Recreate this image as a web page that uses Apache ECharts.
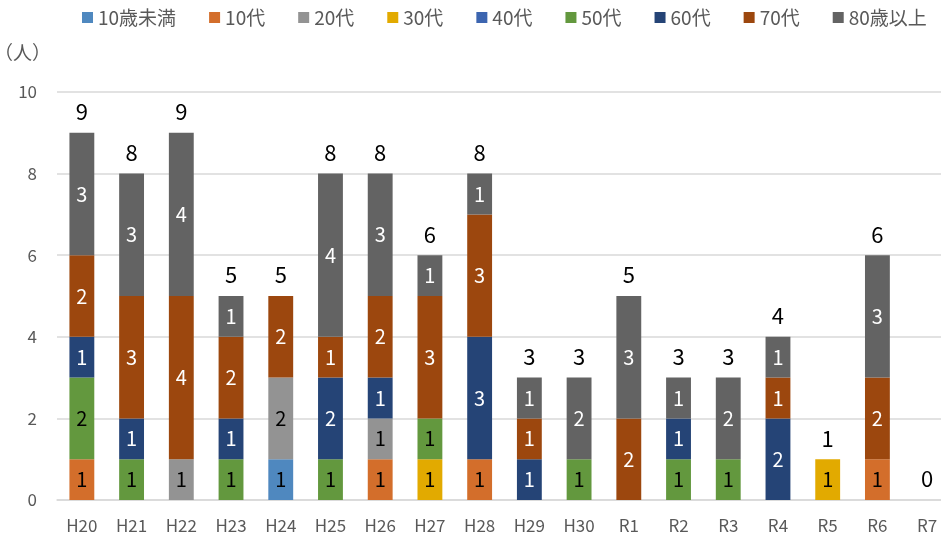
<!DOCTYPE html>
<html>
<head>
<meta charset="utf-8">
<script src="https://cdn.jsdelivr.net/npm/echarts@6/dist/echarts.min.js"></script>
<style>
  html, body { margin: 0; padding: 0; background: #fff; }
  #chart { width: 941px; height: 538px; }
</style>
</head>
<body>
<div id="chart"></div>
<script>
// 年度
const years = ['H20', 'H21', 'H22', 'H23', 'H24', 'H25', 'H26', 'H27', 'H28',
  'H29', 'H30', 'R1', 'R2', 'R3', 'R4', 'R5', 'R6', 'R7'];

// 年代別の人数
const under10 = [0, 0, 0, 0, 1, 0, 0, 0, 0, 0, 0, 0, 0, 0, 0, 0, 0, 0];
const age10s  = [1, 0, 0, 0, 0, 0, 1, 0, 1, 0, 0, 0, 0, 0, 0, 0, 1, 0];
const age20s  = [0, 0, 1, 0, 2, 0, 1, 0, 0, 0, 0, 0, 0, 0, 0, 0, 0, 0];
const age30s  = [0, 0, 0, 0, 0, 0, 0, 1, 0, 0, 0, 0, 0, 0, 0, 1, 0, 0];
const age40s  = [0, 0, 0, 0, 0, 0, 0, 0, 0, 0, 0, 0, 0, 0, 0, 0, 0, 0];
const age50s  = [2, 1, 0, 1, 0, 1, 0, 1, 0, 0, 1, 0, 1, 1, 0, 0, 0, 0];
const age60s  = [1, 1, 0, 1, 0, 2, 1, 0, 3, 1, 0, 0, 1, 0, 2, 0, 0, 0];
const age70s  = [2, 3, 4, 2, 2, 1, 2, 3, 3, 1, 0, 2, 0, 0, 1, 0, 2, 0];
const over80  = [3, 3, 4, 1, 0, 4, 3, 1, 1, 1, 2, 3, 1, 2, 1, 0, 3, 0];

const yTicks = [0, 2, 4, 6, 8, 10];

const groups = [
  { name: '10歳未満', data: under10, color: '#4f88bf', text: '#000' },
  { name: '10代',     data: age10s,  color: '#d36e2b', text: '#000' },
  { name: '20代',     data: age20s,  color: '#939393', text: '#000' },
  { name: '30代',     data: age30s,  color: '#e2aa00', text: '#000' },
  { name: '40代',     data: age40s,  color: '#3c65b0', text: '#fff' },
  { name: '50代',     data: age50s,  color: '#63983e', text: '#000' },
  { name: '60代',     data: age60s,  color: '#254476', text: '#fff' },
  { name: '70代',     data: age70s,  color: '#9c470e', text: '#fff' },
  { name: '80歳以上', data: over80,  color: '#636363', text: '#fff' }
];

const totals = years.map((_, i) => groups.reduce((s, g) => s + g.data[i], 0));

const font = '"Noto Sans CJK JP", "Noto Sans", sans-serif';

const chart = echarts.init(document.getElementById('chart'));

const series = groups.map(g => ({
  name: g.name,
  type: 'bar',
  stack: 'total',
  barWidth: '50%',
  data: g.data,
  itemStyle: { color: g.color },
  label: {
    show: true,
    position: 'inside',
    color: g.text,
    fontFamily: font,
    fontSize: 20,
    formatter: p => (p.value ? p.value : '')
  }
}));

// 合計ラベル
series.push({
  name: '合計',
  type: 'bar',
  stack: 'total',
  barWidth: '50%',
  data: years.map(() => 0),
  itemStyle: { color: 'transparent' },
  label: {
    show: true,
    position: 'top',
    distance: 10,
    color: '#000',
    fontFamily: font,
    fontSize: 22,
    formatter: p => String(totals[p.dataIndex])
  }
});

const option = {
  animation: false,
  textStyle: { fontFamily: font },
  color: groups.map(g => g.color),
  legend: {
    data: groups.map(g => g.name),
    top: 8,
    left: 82,
    width: 900,
    padding: 0,
    icon: 'rect',
    itemWidth: 11,
    itemHeight: 11,
    itemGap: 33,
    textStyle: { color: '#595959', fontSize: 19, fontFamily: font }
  },
  grid: {
    left: 57,
    width: 895,
    top: 92,
    bottom: 38,
    outerBoundsMode: 'none',
    containLabel: false
  },
  xAxis: {
    type: 'category',
    data: years,
    axisLine: { lineStyle: { color: '#d9d9d9', width: 1.5 } },
    axisTick: { show: false },
    axisLabel: { color: '#595959', fontSize: 17, margin: 17, fontFamily: font }
  },
  yAxis: {
    type: 'value',
    name: '（人）',
    nameLocation: 'end',
    nameGap: 30,
    nameTextStyle: { color: '#595959', fontSize: 19, align: 'right', padding: [0, 6, 0, 0] },
    min: yTicks[0],
    max: yTicks[yTicks.length - 1],
    interval: 2,
    axisLine: { show: false },
    axisTick: { show: false },
    axisLabel: { color: '#595959', fontSize: 17, margin: 20, fontFamily: font },
    splitLine: { lineStyle: { color: '#d9d9d9', width: 1.5 } }
  },
  series: series
};

chart.setOption(option);
</script>
</body>
</html>
